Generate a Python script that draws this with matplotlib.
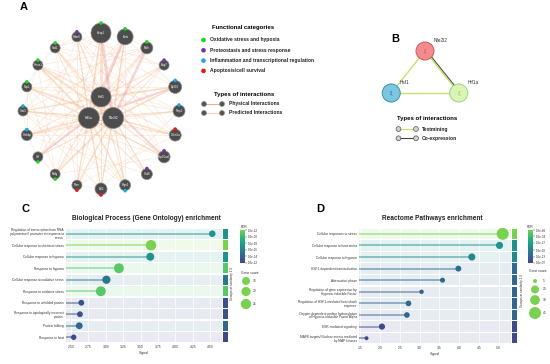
import numpy as np
import matplotlib
matplotlib.use("Agg")
import matplotlib.pyplot as plt
from matplotlib.patches import Circle
from matplotlib.colors import Normalize, ListedColormap
from matplotlib.cm import ScalarMappable

plt.rcParams['font.family'] = ['Liberation Sans', 'DejaVu Sans']

W, H = 550, 364

# ---------------- panel A: GeneMANIA network ----------------
hubs = ["Hsf1", "Hif1a", "Nfe2l2"]
outer = ["Keap1", "Arnt", "Mafk", "Atg7", "Ep300", "Parp1", "Cdkn1a", "Hsp90aa1",
         "Chd8", "Ptgs2", "Bcl2", "Pten", "Mafg", "Vhl", "Crebbp", "Stat3",
         "Nqo1", "Hmox1", "Sod1", "Hdac6"]
category = ["ox", "ox", "ox", "prot", "infl", "infl", "apop", "prot",
            "prot", "infl", "apop", "apop", "ox", "ox", "infl", "infl",
            "ox", "ox", "ox", "prot"]
node_score = [10, 8, 6, 5, 6.5, 6, 6, 6, 5.5, 5.5, 6, 5, 5, 5, 5.5, 5, 5, 5, 5, 5]
hub_score = [10, 10.5, 10.5]

# hub -> outer edge weights, order of `outer`
hub_w = {
    "Hsf1":   [2.5, 1.2, 0.8, 1.0, 1.5, 0.6, 0.8, 2.0, 0.6, 1.0, 0.8, 0.5, 0.5, 0.6, 0.6, 1.0, 0.5, 1.2, 0.6, 0.8],
    "Hif1a":  [1.5, 2.5, 0.8, 0.6, 1.8, 0.8, 1.0, 1.2, 0.5, 1.5, 1.2, 1.0, 0.6, 2.0, 1.5, 1.2, 0.8, 1.5, 0.8, 1.0],
    "Nfe2l2": [3.0, 1.5, 2.5, 0.8, 1.2, 1.0, 1.5, 1.0, 0.8, 1.2, 1.0, 1.5, 2.0, 0.6, 1.0, 0.8, 1.8, 2.0, 1.2, 0.6],
}
physical_hub = [("Nfe2l2", "Keap1"), ("Hif1a", "Arnt"), ("Hif1a", "Vhl"),
                ("Hsf1", "Hsp90aa1"), ("Nfe2l2", "Mafk"), ("Hif1a", "Ep300")]

outer_edges = [("Keap1", "Hsp90aa1"), ("Keap1", "Pten"), ("Keap1", "Sod1"), ("Keap1", "Stat3"),
               ("Keap1", "Mafg"), ("Keap1", "Cdkn1a"), ("Arnt", "Vhl"), ("Arnt", "Ep300"),
               ("Arnt", "Crebbp"), ("Arnt", "Bcl2"), ("Arnt", "Ptgs2"), ("Mafk", "Mafg"),
               ("Mafk", "Nqo1"), ("Mafk", "Hmox1"), ("Mafk", "Stat3"), ("Atg7", "Pten"),
               ("Atg7", "Hdac6"), ("Atg7", "Sod1"), ("Atg7", "Vhl"), ("Ep300", "Crebbp"),
               ("Ep300", "Stat3"), ("Ep300", "Hdac6"), ("Ep300", "Vhl"), ("Ep300", "Nqo1"),
               ("Parp1", "Bcl2"), ("Parp1", "Hmox1"), ("Parp1", "Crebbp"), ("Parp1", "Sod1"),
               ("Cdkn1a", "Stat3"), ("Cdkn1a", "Pten"), ("Cdkn1a", "Crebbp"), ("Cdkn1a", "Hdac6"),
               ("Hsp90aa1", "Hdac6"), ("Hsp90aa1", "Stat3"), ("Hsp90aa1", "Nqo1"), ("Hsp90aa1", "Mafg"),
               ("Chd8", "Hmox1"), ("Chd8", "Sod1"), ("Chd8", "Crebbp"), ("Ptgs2", "Hmox1"),
               ("Ptgs2", "Stat3"), ("Ptgs2", "Nqo1"), ("Bcl2", "Stat3"), ("Bcl2", "Hdac6"),
               ("Pten", "Hdac6"), ("Pten", "Sod1"), ("Mafg", "Nqo1"), ("Mafg", "Hmox1"),
               ("Vhl", "Crebbp"), ("Vhl", "Hdac6"), ("Crebbp", "Stat3"), ("Crebbp", "Nqo1"),
               ("Stat3", "Hmox1"), ("Nqo1", "Hmox1"), ("Hmox1", "Sod1"), ("Sod1", "Hdac6"),
               ("Keap1", "Arnt"), ("Arnt", "Mafk"), ("Vhl", "Mafg"), ("Pten", "Bcl2")]

cat_names = ["Oxidative stress and hypoxia", "Proteostasis and stress response",
             "Inflammation and transcriptional regulation", "Apoptosis/cell survival"]
cat_keys = ["ox", "prot", "infl", "apop"]
cat_colors = {"ox": "#1fd31f", "prot": "#7a2fae", "infl": "#1aa7e6", "apop": "#e41616"}

# ---------------- panel B: STRING network ----------------
b_nodes = ["Nfe2l2", "Hsf1", "Hif1a"]
b_edges = [("Nfe2l2", "Hsf1", "Textmining"), ("Hsf1", "Hif1a", "Textmining"),
           ("Nfe2l2", "Hif1a", "Textmining"), ("Nfe2l2", "Hif1a", "Co-expression")]

# ---------------- panel C: GO biological process ----------------
c_terms = ["Regulation of transcription from RNA\npolymerase II promoter in response to\nstress",
           "Cellular response to chemical stress", "Cellular response to hypoxia",
           "Response to hypoxia", "Cellular response to oxidative stress",
           "Response to oxidative stress", "Response to unfolded protein",
           "Response to topologically incorrect\nprotein", "Protein folding", "Response to heat"]
c_signal = [4.53, 3.65, 3.64, 3.19, 3.01, 2.93, 2.65, 2.63, 2.62, 2.54]
c_count = [10, 26, 15, 23, 16, 23, 8, 8, 11, 7]
c_mlogfdr = [17.0, 22.0, 17.2, 21.0, 15.3, 21.0, 12.8, 12.8, 14.2, 12.2]
c_cbticks = [22, 20, 18, 16, 14, 12]
c_sizes = [15, 20, 25]

# ---------------- panel D: Reactome ----------------
d_terms = ["Cellular responses to stress", "Cellular response to heat stress",
           "Cellular response to hypoxia", "HSF1-dependent transactivation",
           "Attenuation phase", "Regulation of gene expression by\nHypoxia-inducible Factor",
           "Regulation of HSF1-mediated heat shock\nresponse",
           "Oxygen-dependent proline hydroxylation\nof Hypoxia-inducible Factor Alpha",
           "ESR-mediated signaling",
           "MAPK targets/ Nuclear events mediated\nby MAP kinases"]
d_signal = [5.10, 5.02, 4.32, 3.98, 3.58, 3.05, 2.72, 2.68, 2.05, 1.66]
d_count = [45, 16, 16, 11, 8, 6, 10, 10, 12, 5]
d_mlogfdr = [40, 24, 21.5, 15, 14, 13, 14, 13.5, 8.5, 8]
d_cbticks = [40, 34, 27, 20, 13, 7]
d_sizes = [5, 20, 30, 45]

cmap = ListedColormap(plt.get_cmap('viridis')(np.linspace(0.2, 0.8, 256)))

fig = plt.figure(figsize=(W / 100, H / 100), dpi=100)
ov = fig.add_axes([0, 0, 1, 1])
ov.set_xlim(0, W)
ov.set_ylim(H, 0)
ov.axis('off')


def px_axes(x0, y0, x1, y1):
    return fig.add_axes([x0 / W, 1 - y1 / H, (x1 - x0) / W, (y1 - y0) / H])


# ---- draw A (circular layout around the three hubs)
cx, cy, R = 101, 111, 78
pos = {}
for i, name in enumerate(outer):
    a = np.deg2rad(i * 360 / len(outer))
    pos[name] = (cx + R * np.sin(a), cy - R * np.cos(a))
for i, name in enumerate(hubs):
    a = np.deg2rad([0, 240, 120][i])
    pos[name] = (cx + 14 * np.sin(a), cy - 14 * np.cos(a))

for a_, b_ in outer_edges:
    (x1, y1), (x2, y2) = pos[a_], pos[b_]
    ov.plot([x1, x2], [y1, y2], color='#f7c29a', lw=0.4, alpha=0.45, zorder=1)
for h in hubs:
    for name, w in zip(outer, hub_w[h]):
        phys = (h, name) in physical_hub
        (x1, y1), (x2, y2) = pos[h], pos[name]
        ov.plot([x1, x2], [y1, y2], color='#eba0a0' if phys else '#f5b985',
                lw=w * 0.75, alpha=0.42, zorder=2, solid_capstyle='butt')

for i, name in enumerate(outer):
    x, y = pos[name]
    r = node_score[i]
    ov.add_patch(Circle((x, y), r, fc='#4d4d4d', ec='#8a8a8a', lw=0.5, zorder=4))
    ov.text(x, y, name, color='white', fontsize=2.0, ha='center', va='center', zorder=5)
    ang = i * 360 / len(outer)
    dy = r if 150 < ang < 240 else -r
    ov.add_patch(Circle((x, y + dy), 1.8, fc=cat_colors[category[i]], ec='none', zorder=5))
for i, name in enumerate(hubs):
    x, y = pos[name]
    ov.add_patch(Circle((x, y), hub_score[i], fc='#4d4d4d', ec='#8a8a8a', lw=0.5, zorder=4))
    ov.text(x, y, name, color='white', fontsize=2.4, ha='center', va='center', zorder=5)

ov.text(23.5, 7.5, "A", fontsize=8, fontweight='bold', ha='center', va='center')

# legend A
ov.text(212, 28, "Functional categories", fontsize=4.3, fontweight='bold', va='center')
for k, (key, lab) in enumerate(zip(cat_keys, cat_names)):
    yy = 40 + k * 10.3
    ov.add_patch(Circle((203.5, yy), 2.3, fc=cat_colors[key], ec='none'))
    ov.text(210, yy, lab, fontsize=3.6, fontweight='bold', va='center', color='#222222')
ov.text(214.5, 94.5, "Types of interactions", fontsize=4.3, fontweight='bold', va='center')
for k, (lab, col) in enumerate([("Physical Interactions", '#f2b08a'),
                                 ("Predicted Interactions", '#f7d0b5')]):
    yy = 104 + k * 9
    ov.plot([204, 222], [yy, yy], color=col, lw=0.8, zorder=1)
    for xx in (204, 222):
        ov.add_patch(Circle((xx, yy), 2.5, fc='#555555', ec='#888888', lw=0.4, zorder=3))
    ov.text(229, yy, lab, fontsize=3.6, fontweight='bold', va='center', color='#222222')

# ---- draw B
bcx, bcy = 425, 79
bpos = {}
for i, name in enumerate(b_nodes):
    a = np.deg2rad([0, 240, 120][i])
    bpos[name] = (bcx + 39 * np.sin(a), bcy - 28 * np.cos(a))
for a_, b_, kind in b_edges:
    (x1, y1), (x2, y2) = bpos[a_], bpos[b_]
    if kind == "Co-expression":
        ov.plot([x1 + 1.2, x2 + 1.2], [y1 - 0.6, y2 - 0.6], color='#555555', lw=0.9, zorder=1)
    else:
        ov.plot([x1, x2], [y1, y2], color='#c9e06a', lw=1.0, zorder=2)
b_fc = {"Nfe2l2": '#f28c8c', "Hsf1": '#7cc6e0', "Hif1a": '#d8f5b4'}
b_ec = {"Nfe2l2": '#c85a5a', "Hsf1": '#3d8fae', "Hif1a": '#a5cf85'}
b_ic = {"Nfe2l2": '#c0407a', "Hsf1": '#2a50c0', "Hif1a": '#b0a060'}
for name in b_nodes:
    x, y = bpos[name]
    ov.add_patch(Circle((x, y), 9, fc=b_fc[name], ec=b_ec[name], lw=0.7, zorder=4))
    ov.text(x, y, "\u03be", fontsize=4, color=b_ic[name], ha='center', va='center', zorder=5)
ov.text(bpos["Nfe2l2"][0] + 9, bpos["Nfe2l2"][1] - 11, "Nfe2l2", fontsize=3.4, va='center', color='#333333')
ov.text(bpos["Hsf1"][0] + 8, bpos["Hsf1"][1] - 10.5, "Hsf1", fontsize=3.4, va='center', color='#333333')
ov.text(bpos["Hif1a"][0] + 9, bpos["Hif1a"][1] - 11, "Hif1a", fontsize=3.4, va='center', color='#333333')
ov.text(395.5, 38.5, "B", fontsize=8, fontweight='bold', ha='center', va='center')
ov.text(397, 118.5, "Types of interactions", fontsize=4.3, fontweight='bold', va='center')
for k, (lab, col) in enumerate([("Textmining", '#c9e06a'), ("Co-expression", '#444444')]):
    yy = 129 + k * 9.3
    ov.plot([398.5, 416], [yy, yy], color=col, lw=0.8, zorder=1)
    for xx in (398.5, 416):
        ov.add_patch(Circle((xx, yy), 2.4, fc='#d0d0d0', ec='#555555', lw=0.5, zorder=3))
    ov.text(422, yy, lab, fontsize=3.6, fontweight='bold', va='center', color='#222222')


# ---- lollipop panels
def lollipop(box, strip_box, cbar_box, terms, signal, count, mlog, vmin, vmax,
             ksize, xlim, xticks, fmt, cbticks):
    ax = px_axes(*box)
    norm = Normalize(vmin, vmax)
    n = len(terms)
    y = np.arange(n)
    cols = cmap(norm(mlog))
    for i in range(n):
        tint = 0.88 + 0.12 * np.array(cols[i][:3])
        ax.axhspan(i - 0.44, i + 0.44, color=tint, lw=0, zorder=0)
    for xt in xticks:
        ax.axvline(xt, color='white', lw=0.5, zorder=1)
    ax.hlines(y, xlim[0], signal, colors=cols, alpha=0.6, lw=1.1, zorder=2)
    ax.scatter(signal, y, s=ksize * np.array(count), c=cols, edgecolors='none', zorder=3)
    ax.set_xlim(*xlim)
    ax.set_ylim(n - 0.5, -0.5)
    ax.set_yticks(y)
    ax.set_yticklabels(terms, fontsize=2.3, color='#333333', linespacing=0.95)
    ax.set_xticks(xticks)
    ax.set_xticklabels([fmt.format(v) for v in xticks], fontsize=2.4, color='#333333')
    ax.tick_params(length=0, pad=1.5)
    ax.set_xlabel("Signal", fontsize=2.6, labelpad=1.5, color='#333333')
    for s in ax.spines.values():
        s.set_visible(False)

    sx = px_axes(*strip_box)
    sx.barh(y, 1, height=0.88, color=cols, edgecolor='none')
    sx.set_xlim(0, 1)
    sx.set_ylim(n - 0.5, -0.5)
    sx.axis('off')

    cax = px_axes(*cbar_box)
    cb = fig.colorbar(ScalarMappable(norm=norm, cmap=cmap), cax=cax)
    cb.outline.set_visible(False)
    cb.set_ticks(cbticks)
    cb.set_ticklabels(["1.0e-{:02d}".format(t) for t in cbticks])
    cax.tick_params(labelsize=2.2, length=1.2, width=0.3, pad=1, colors='#333333')
    return ax


lollipop((66, 228, 222, 343), (223, 228, 228, 343), (240, 230, 245, 263),
         c_terms, c_signal, c_count, c_mlogfdr, 12, 22, 2.2, (2.43, 4.67),
         [2.50, 2.75, 3.00, 3.25, 3.50, 3.75, 4.00, 4.25, 4.50], "{:.2f}", c_cbticks)
lollipop((359, 228, 511, 344), (512, 228, 517, 344), (528, 230, 533, 263),
         d_terms, d_signal, d_count, d_mlogfdr, 7, 40, 1.65, (1.47, 5.31),
         [1.5, 2.0, 2.5, 3.0, 3.5, 4.0, 4.5, 5.0], "{:.1f}", d_cbticks)

# titles / letters / side legends
ov.text(25, 209, "C", fontsize=8, fontweight='bold', ha='center', va='center')
ov.text(320.5, 209.5, "D", fontsize=8, fontweight='bold', ha='center', va='center')
ov.text(146, 218, "Biological Process (Gene Ontology) enrichment", fontsize=4.7,
        fontweight='bold', ha='center', va='center', color='#222222')
ov.text(432, 219, "Reactome Pathways enrichment", fontsize=4.7,
        fontweight='bold', ha='center', va='center', color='#222222')

ov.text(241, 226.5, "FDR", fontsize=2.3, va='center', color='#333333')
ov.text(527, 226.5, "FDR", fontsize=2.3, va='center', color='#333333')
ov.text(232.5, 283, "Groups at similarity 1.0", fontsize=2.3, rotation=90,
        ha='center', va='center', color='#333333')
ov.text(522, 290, "Groups at similarity 1.0", fontsize=2.3, rotation=90,
        ha='center', va='center', color='#333333')

ov.text(250, 273, "Gene count", fontsize=2.4, ha='center', va='center', color='#333333')
for v, yy in zip(c_sizes, [281, 291.5, 304]):
    ov.scatter([246], [yy], s=2.2 * v, color=cmap(1.0), edgecolors='none')
    ov.text(253, yy, str(v), fontsize=2.3, va='center', color='#333333')
ov.text(538, 271, "Gene count", fontsize=2.4, ha='center', va='center', color='#333333')
for v, yy in zip(d_sizes, [281, 289.5, 300, 313]):
    ov.scatter([535], [yy], s=1.65 * v, color=cmap(1.0), edgecolors='none')
    ov.text(543, yy, str(v), fontsize=2.3, va='center', color='#333333')

fig.savefig("out.png", dpi=100)
